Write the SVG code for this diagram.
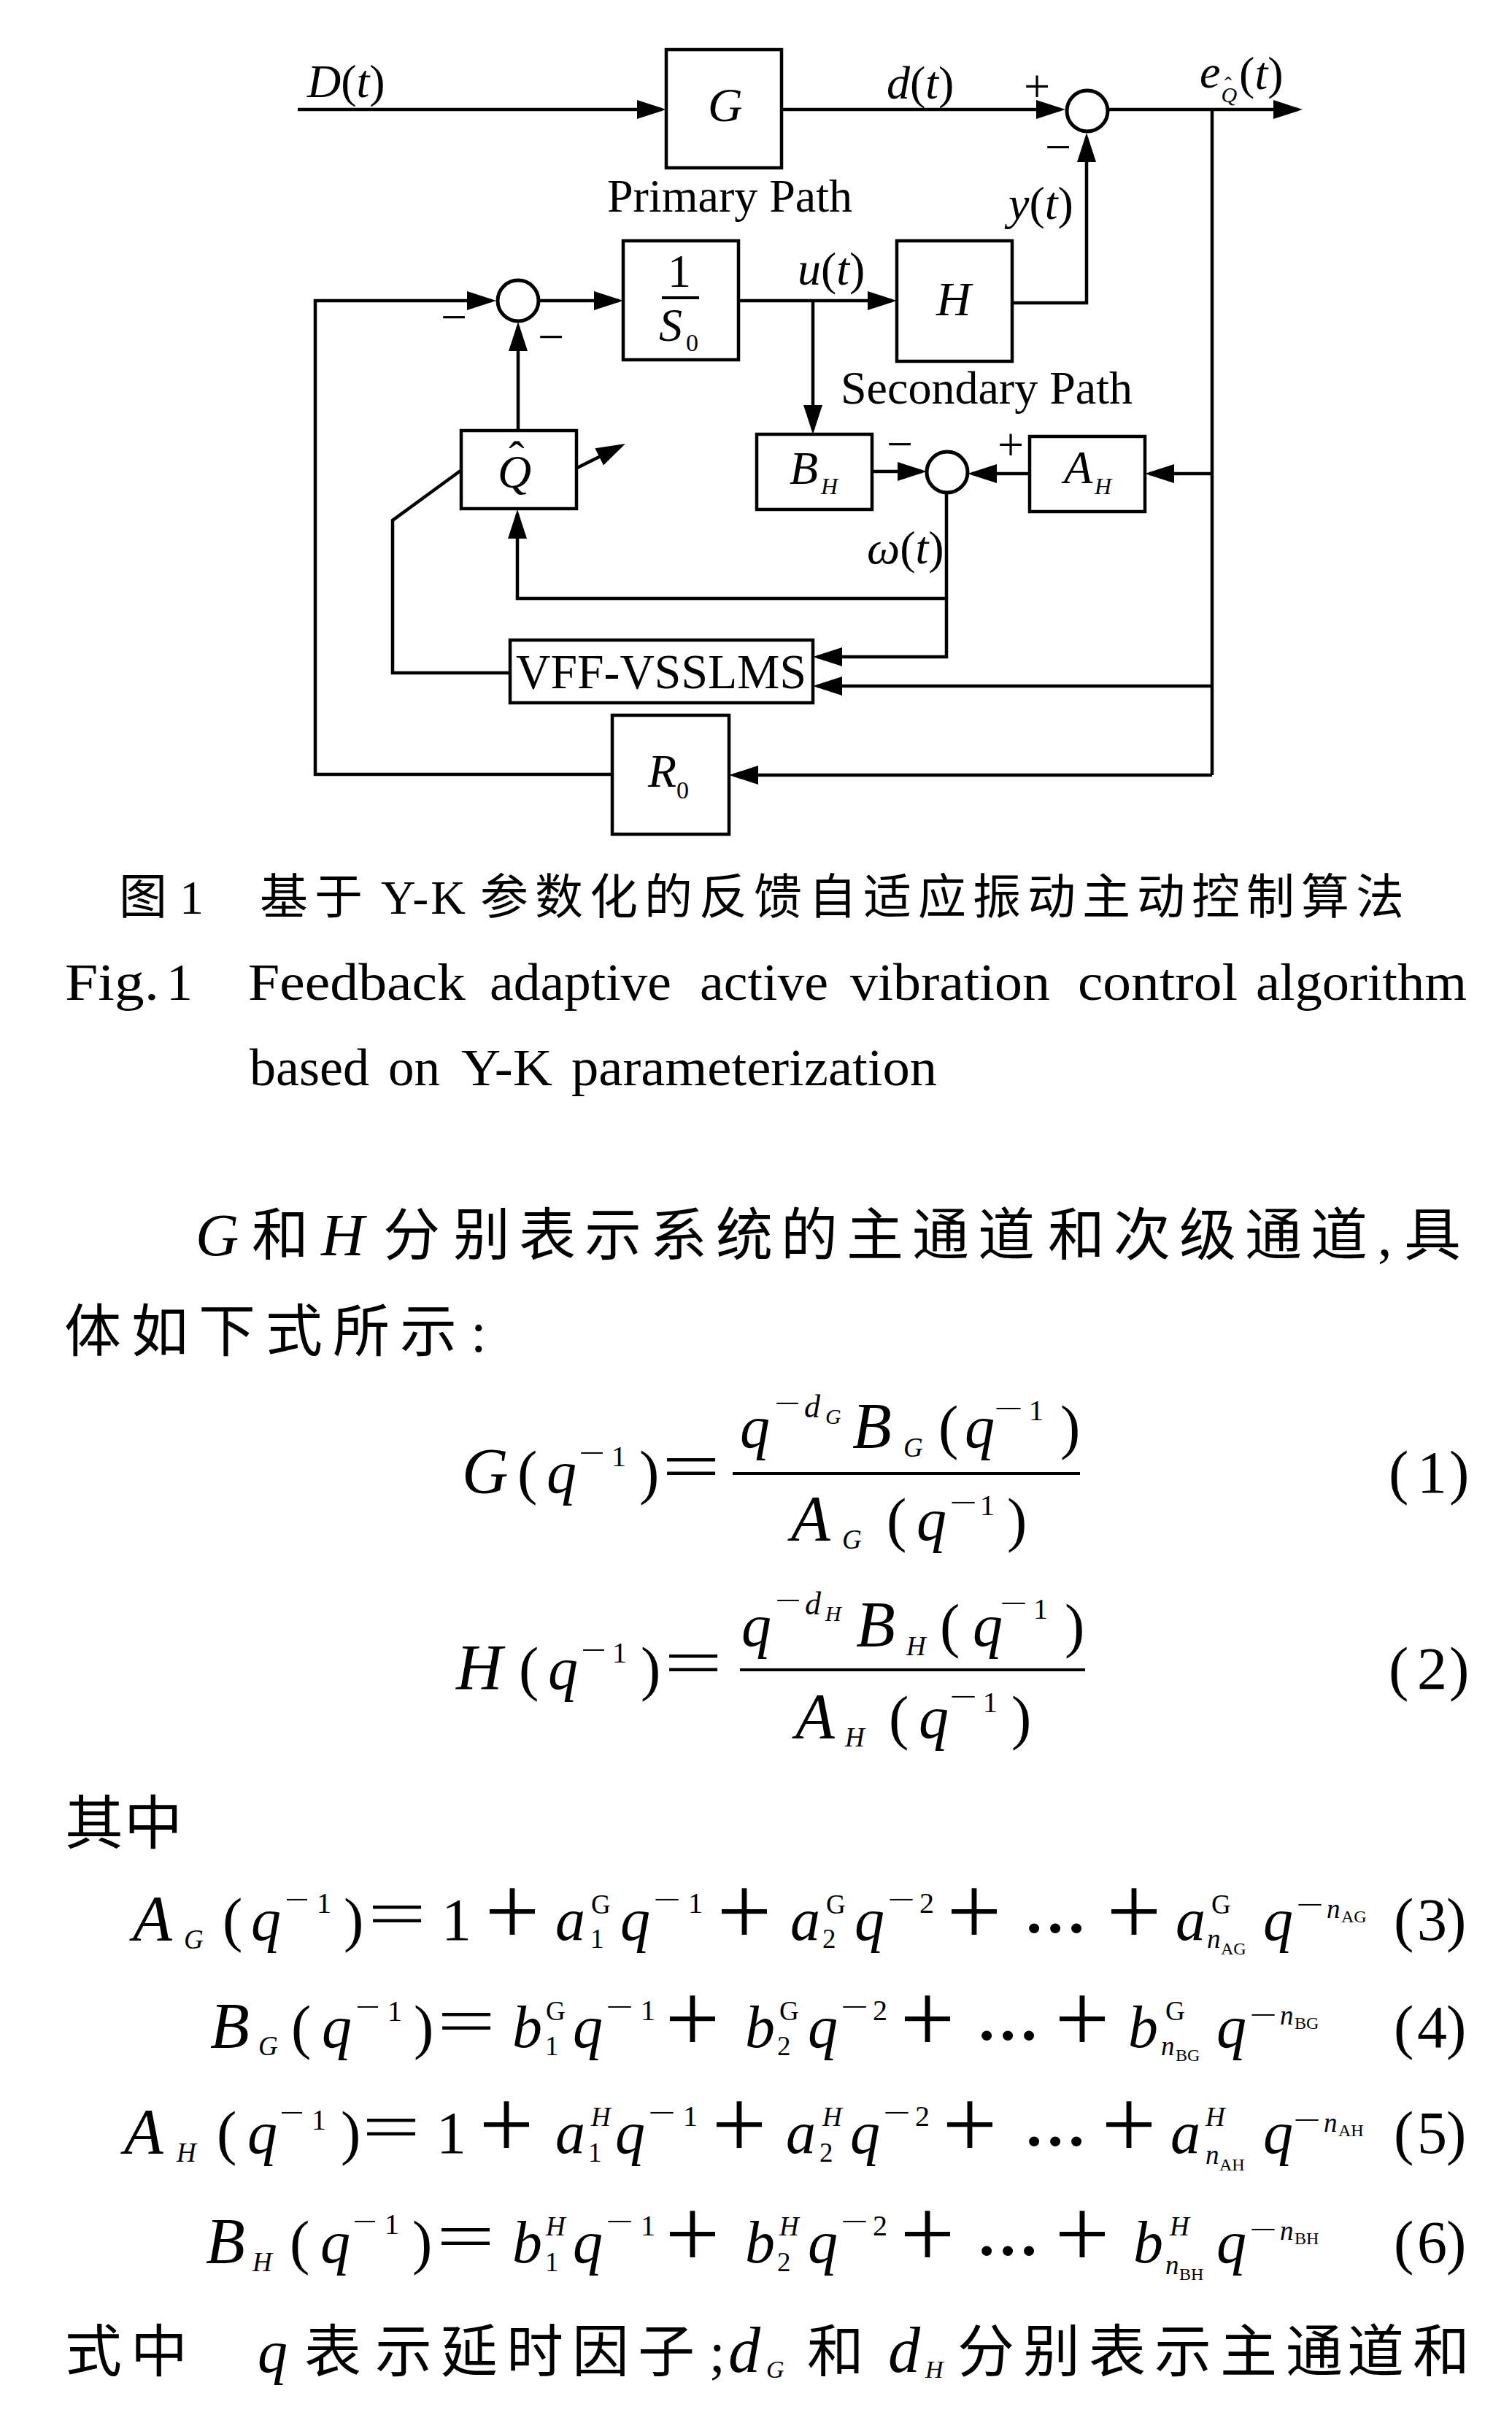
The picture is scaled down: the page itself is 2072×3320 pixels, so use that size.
<svg xmlns="http://www.w3.org/2000/svg" width="2072" height="3320" viewBox="0 0 2072 3320">
<style>
.f{font-family:"Liberation Serif","Noto Sans CJK SC",serif;fill:#000}
.i{font-style:italic}
.L{font-size:64px}
.M{font-size:82px}
.K{font-size:88px}
.S{font-size:40px}
.U{font-size:37px}
.V{font-size:24px}
.C{font-size:66px}
.T{font-size:78px}
.pl{font-family:"Noto Sans CJK SC","Noto Sans",sans-serif;font-weight:200;font-size:130px;fill:#000}
.ln{stroke:#000;stroke-width:4.5;fill:none}
.box{fill:#fff;stroke:#000;stroke-width:4.5}
.sum{fill:#fff;stroke:#000;stroke-width:5}
.bar{stroke:#000;stroke-width:4}
</style>
<defs>
<marker id="ar" markerUnits="userSpaceOnUse" markerWidth="40" markerHeight="26" viewBox="0 0 40 26" refX="34" refY="13" orient="auto" overflow="visible">
<path d="M0,0 L40,13 L0,26 z" fill="#000"/>
</marker>
</defs>
<rect width="2072" height="3320" fill="#fff"/>

<g id="connectors" class="ln">
<path d="M408,150 H907" marker-end="url(#ar)"/>
<path d="M1071,150 H1454" marker-end="url(#ar)"/>
<path d="M1520,150 H1779" marker-end="url(#ar)"/>
<path d="M1661,150 V1062"/>
<path d="M1387,415 H1489 V188" marker-end="url(#ar)"/>
<path d="M839,1061 H432 V412 H674" marker-end="url(#ar)"/>
<path d="M740,412 H848" marker-end="url(#ar)"/>
<path d="M1012,412 H1223" marker-end="url(#ar)"/>
<path d="M1114,412 V589" marker-end="url(#ar)"/>
<path d="M710,590 V447" marker-end="url(#ar)"/>
<path d="M1195,646 H1264" marker-end="url(#ar)"/>
<path d="M1411,649 H1332" marker-end="url(#ar)"/>
<path d="M1661,649 H1575" marker-end="url(#ar)"/>
<path d="M1297,677 V900 H1120" marker-end="url(#ar)"/>
<path d="M1297,820 H709 V704" marker-end="url(#ar)"/>
<path d="M1661,940 H1120" marker-end="url(#ar)"/>
<path d="M697,922 H538 V713 L631,645"/>
<path d="M789,642 L851.6,610.7" marker-end="url(#ar)"/>
<path d="M1661,1062 H1005" marker-end="url(#ar)"/>
</g>

<g id="labels">
<text class="f L" x="421" y="133"><tspan class="i">D</tspan>(<tspan class="i">t</tspan>)</text>
<text class="f L" x="1215" y="135"><tspan class="i">d</tspan>(<tspan class="i">t</tspan>)</text>
<text class="f L" x="1403" y="140">+</text>
<text class="f L" x="1432" y="223">−</text>
<text class="f L" x="1644" y="120"><tspan class="i">e</tspan><tspan class="i" font-size="30" dx="1" dy="20">Q</tspan><tspan font-size="30" dx="-17" dy="-14">ˆ</tspan><tspan dx="10" dy="-4">(</tspan><tspan class="i">t</tspan>)</text>
<text class="f L" x="832" y="290">Primary Path</text>
<text class="f L" x="1382" y="300"><tspan class="i">y</tspan>(<tspan class="i">t</tspan>)</text>
<text class="f L" x="1093" y="390"><tspan class="i">u</tspan>(<tspan class="i">t</tspan>)</text>
<text class="f L" x="604" y="456">−</text>
<text class="f L" x="737" y="483">−</text>
<text class="f L" x="1152" y="553">Secondary Path</text>
<text class="f L" x="1215" y="630">−</text>
<text class="f L" x="1367" y="631">+</text>
<text class="f L" x="1188" y="772"><tspan class="i">ω</tspan>(<tspan class="i">t</tspan>)</text>
</g>

<g id="sum1"><circle class="sum" cx="1490" cy="152" r="28"/></g>
<g id="sum2"><circle class="sum" cx="710" cy="412" r="28"/></g>
<g id="sum3"><circle class="sum" cx="1298" cy="647" r="28"/></g>

<g id="G">
<rect class="box" x="913" y="68" width="158" height="162"/>
<text class="f i" font-size="66" x="970" y="166">G</text>
</g>
<g id="S0">
<rect class="box" x="854" y="330" width="158" height="163"/>
<text class="f L" x="915" y="393">1</text>
<line class="bar" x1="907" y1="408" x2="958" y2="408"/>
<text class="f L i" x="903" y="467">S</text>
<text class="f" font-size="34" x="940" y="481">0</text>
</g>
<g id="H">
<rect class="box" x="1229" y="330" width="158" height="165"/>
<text class="f i" font-size="66" x="1283" y="432">H</text>
</g>
<g id="Qhat">
<rect class="box" x="632" y="590" width="158" height="107"/>
<text class="f L" x="682" y="668"><tspan class="i">Q</tspan><tspan dx="-31" dy="-19">ˆ</tspan></text>
</g>
<g id="BH">
<rect class="box" x="1037" y="595" width="158" height="103"/>
<text class="f L i" x="1082" y="663">B</text>
<text class="f i" font-size="32" x="1125" y="677">H</text>
</g>
<g id="AH">
<rect class="box" x="1411" y="598" width="158" height="103"/>
<text class="f L i" x="1458" y="662">A</text>
<text class="f i" font-size="32" x="1500" y="677">H</text>
</g>
<g id="VFF">
<rect class="box" x="699" y="877" width="415" height="86"/>
<text class="f" font-size="68" x="707" y="943" textLength="398" lengthAdjust="spacingAndGlyphs">VFF-VSSLMS</text>
</g>
<g id="R0">
<rect class="box" x="839" y="980" width="160" height="163"/>
<text class="f L i" x="888" y="1078">R</text>
<text class="f" font-size="34" x="927" y="1094">0</text>
</g>

<g id="caption">
<text class="f C" x="163" y="1252">图<tspan x="246">1</tspan></text>
<text class="f C" x="356" y="1252" letter-spacing="9">基于</text>
<text class="f C" x="522" y="1252" letter-spacing="3">Y-K</text>
<text class="f C" x="658" y="1252" letter-spacing="9">参数化的反馈自适应振动主动控制算法</text>
<g class="f" font-size="72">
<text x="89" y="1370" textLength="129" lengthAdjust="spacingAndGlyphs">Fig.</text>
<text x="228" y="1370">1</text>
<text x="340" y="1370" textLength="298" lengthAdjust="spacingAndGlyphs">Feedback</text>
<text x="671" y="1370" textLength="249" lengthAdjust="spacingAndGlyphs">adaptive</text>
<text x="959" y="1370" textLength="176" lengthAdjust="spacingAndGlyphs">active</text>
<text x="1165" y="1370" textLength="274" lengthAdjust="spacingAndGlyphs">vibration</text>
<text x="1477" y="1370" textLength="219" lengthAdjust="spacingAndGlyphs">control</text>
<text x="1721" y="1370" textLength="289" lengthAdjust="spacingAndGlyphs">algorithm</text>
<text x="342" y="1487" textLength="164" lengthAdjust="spacingAndGlyphs">based</text>
<text x="532" y="1487" textLength="71" lengthAdjust="spacingAndGlyphs">on</text>
<text x="632" y="1487" textLength="125" lengthAdjust="spacingAndGlyphs">Y-K</text>
<text x="783" y="1487" textLength="501" lengthAdjust="spacingAndGlyphs">parameterization</text>
</g>
</g>

<g id="para">
<text class="f i" font-size="82" x="268" y="1720">G</text>
<text class="f T" x="345" y="1720">和</text>
<text class="f i" font-size="82" x="440" y="1720">H</text>
<text class="f T" y="1720" x="525 621 711 801 891 981 1070 1160 1250 1340 1436 1526 1616 1706 1796">分别表示系统的主通道和次级通道</text>
<text class="f" font-size="78" x="1888" y="1720">,</text>
<text class="f T" x="1924" y="1720">具</text>
<text class="f T" y="1852" x="88 180 272 364 456 548">体如下式所示</text>
<text class="f" font-size="78" x="645" y="1852">:</text>
<text class="f" font-size="80" y="2526" x="89 170">其中</text>
<text class="f T" y="3250" x="89 179">式中</text>
<text class="f i" font-size="82" x="353" y="3250">q</text>
<text class="f T" y="3250" x="417 514 604 694 784 874">表示延时因子</text>
<text class="f" font-size="78" x="972" y="3250">;</text>
<text class="f i" font-size="88" x="998" y="3250">d</text>
<text class="f i" font-size="34" x="1050" y="3258">G</text>
<text class="f T" x="1106" y="3250">和</text>
<text class="f i" font-size="88" x="1217" y="3250">d</text>
<text class="f i" font-size="34" x="1268" y="3258">H</text>
<text class="f T" y="3250" x="1312 1402 1492 1582 1672 1762 1846 1936">分别表示主通道和</text>
</g>

<g id="eq1">
<text class="f i K" x="633" y="2045">G</text>
<text class="f M" x="709" y="2045">(</text>
<text class="f i M" x="749" y="2045">q</text>
<text class="f S" x="793" y="2004" textLength="36" lengthAdjust="spacingAndGlyphs">−</text>
<text class="f S" x="838" y="2009">1</text>
<text class="f M" x="876" y="2045">)</text>
<text class="f" font-size="90" x="907" y="2040" textLength="80" lengthAdjust="spacingAndGlyphs">=</text>
<line class="bar" x1="1004" y1="2019" x2="1480" y2="2019"/>
<text class="f i M" x="1014" y="1983">q</text>
<text class="f S" x="1061" y="1936" textLength="36" lengthAdjust="spacingAndGlyphs">−</text>
<text class="f i" font-size="44" x="1102" y="1942">d</text>
<text class="f i" font-size="30" x="1131" y="1951">G</text>
<text class="f i K" x="1168" y="1983">B</text>
<text class="f i U" x="1238" y="1996">G</text>
<text class="f M" x="1286" y="1983">(</text>
<text class="f i M" x="1322" y="1983">q</text>
<text class="f S" x="1362" y="1943" textLength="40" lengthAdjust="spacingAndGlyphs">−</text>
<text class="f S" x="1410" y="1946">1</text>
<text class="f M" x="1453" y="1983">)</text>
<text class="f i K" x="1084" y="2110">A</text>
<text class="f i U" x="1154" y="2122">G</text>
<text class="f M" x="1215" y="2110">(</text>
<text class="f i M" x="1256" y="2110">q</text>
<text class="f S" x="1301" y="2072" textLength="38" lengthAdjust="spacingAndGlyphs">−</text>
<text class="f S" x="1343" y="2076">1</text>
<text class="f M" x="1380" y="2110">)</text>
<text class="f M" x="1903" y="2045">(</text>
<text class="f M" x="1942" y="2045">1</text>
<text class="f M" x="1986" y="2045">)</text>
</g>

<g id="eq2">
<text class="f i K" x="625" y="2314">H</text>
<text class="f M" x="711" y="2314">(</text>
<text class="f i M" x="751" y="2314">q</text>
<text class="f S" x="796" y="2274" textLength="35" lengthAdjust="spacingAndGlyphs">−</text>
<text class="f S" x="839" y="2278">1</text>
<text class="f M" x="878" y="2314">)</text>
<text class="f" font-size="90" x="910" y="2309" textLength="80" lengthAdjust="spacingAndGlyphs">=</text>
<line class="bar" x1="1014" y1="2288" x2="1487" y2="2288"/>
<text class="f i M" x="1016" y="2255">q</text>
<text class="f S" x="1062" y="2206" textLength="36" lengthAdjust="spacingAndGlyphs">−</text>
<text class="f i" font-size="44" x="1103" y="2212">d</text>
<text class="f i" font-size="30" x="1131" y="2221">H</text>
<text class="f i K" x="1173" y="2255">B</text>
<text class="f i U" x="1242" y="2268">H</text>
<text class="f M" x="1288" y="2255">(</text>
<text class="f i M" x="1333" y="2255">q</text>
<text class="f S" x="1370" y="2210" textLength="38" lengthAdjust="spacingAndGlyphs">−</text>
<text class="f S" x="1416" y="2218">1</text>
<text class="f M" x="1459" y="2255">)</text>
<text class="f i K" x="1090" y="2381">A</text>
<text class="f i U" x="1158" y="2393">H</text>
<text class="f M" x="1218" y="2381">(</text>
<text class="f i M" x="1259" y="2381">q</text>
<text class="f S" x="1301" y="2338" textLength="38" lengthAdjust="spacingAndGlyphs">−</text>
<text class="f S" x="1347" y="2346">1</text>
<text class="f M" x="1386" y="2381">)</text>
<text class="f M" x="1903" y="2314">(</text>
<text class="f M" x="1942" y="2314">2</text>
<text class="f M" x="1986" y="2314">)</text>
</g>

<g id="eq3">
<text class="f i K" x="182" y="2658">A</text>
<text class="f i U" x="252" y="2670">G</text>
<text class="f M" x="305" y="2658">(</text>
<text class="f i M" x="344" y="2658">q</text>
<text class="f S" x="390" y="2616" textLength="34" lengthAdjust="spacingAndGlyphs">−</text>
<text class="f S" x="434" y="2621">1</text>
<text class="f M" x="471" y="2658">)</text>
<text class="f" font-size="90" x="504" y="2653" textLength="80" lengthAdjust="spacingAndGlyphs">=</text>
<text class="f M" x="605" y="2658">1</text>
<text class="pl" x="666" y="2667" textLength="72" lengthAdjust="spacingAndGlyphs">+</text>
<text class="f i M" x="761" y="2658">a</text>
<text class="f U" x="810" y="2622">G</text>
<text class="f U" x="809" y="2669">1</text>
<text class="f i M" x="850" y="2658">q</text>
<text class="f S" x="895" y="2616" textLength="38" lengthAdjust="spacingAndGlyphs">−</text>
<text class="f S" x="943" y="2621">1</text>
<text class="pl" x="984" y="2667" textLength="72" lengthAdjust="spacingAndGlyphs">+</text>
<text class="f i M" x="1083" y="2658">a</text>
<text class="f U" x="1132" y="2622">G</text>
<text class="f U" x="1127" y="2669">2</text>
<text class="f i M" x="1171" y="2658">q</text>
<text class="f S" x="1216" y="2616" textLength="38" lengthAdjust="spacingAndGlyphs">−</text>
<text class="f S" x="1260" y="2621">2</text>
<text class="pl" x="1299" y="2667" textLength="72" lengthAdjust="spacingAndGlyphs">+</text>
<text class="f M" font-weight="bold" x="1403" y="2648" textLength="86" lengthAdjust="spacingAndGlyphs">…</text>
<text class="pl" x="1518" y="2667" textLength="72" lengthAdjust="spacingAndGlyphs">+</text>
<text class="f i M" x="1611" y="2658">a</text>
<text class="f U" x="1660" y="2622">G</text>
<text class="f i U" x="1654" y="2669">n</text>
<text class="f V" x="1673" y="2678">AG</text>
<text class="f i M" x="1731" y="2658">q</text>
<text class="f S" x="1776" y="2623" textLength="38" lengthAdjust="spacingAndGlyphs">−</text>
<text class="f i U" x="1818" y="2628">n</text>
<text class="f V" x="1838" y="2634">AG</text>
<text class="f M" x="1910" y="2658">(</text>
<text class="f M" x="1942" y="2658">3</text>
<text class="f M" x="1982" y="2658">)</text>
</g>

<g id="eq4">
<text class="f i K" x="288" y="2805">B</text>
<text class="f i U" x="354" y="2816">G</text>
<text class="f M" x="399" y="2805">(</text>
<text class="f i M" x="441" y="2805">q</text>
<text class="f S" x="487" y="2763" textLength="34" lengthAdjust="spacingAndGlyphs">−</text>
<text class="f S" x="531" y="2769">1</text>
<text class="f M" x="567" y="2805">)</text>
<text class="f" font-size="90" x="599" y="2800" textLength="80" lengthAdjust="spacingAndGlyphs">=</text>
<text class="f i M" x="702" y="2805">b</text>
<text class="f U" x="748" y="2768">G</text>
<text class="f U" x="747" y="2816">1</text>
<text class="f i M" x="785" y="2805">q</text>
<text class="f S" x="830" y="2763" textLength="38" lengthAdjust="spacingAndGlyphs">−</text>
<text class="f S" x="878" y="2768">1</text>
<text class="pl" x="913" y="2814" textLength="72" lengthAdjust="spacingAndGlyphs">+</text>
<text class="f i M" x="1021" y="2805">b</text>
<text class="f U" x="1068" y="2768">G</text>
<text class="f U" x="1065" y="2816">2</text>
<text class="f i M" x="1107" y="2805">q</text>
<text class="f S" x="1152" y="2763" textLength="38" lengthAdjust="spacingAndGlyphs">−</text>
<text class="f S" x="1196" y="2768">2</text>
<text class="pl" x="1235" y="2814" textLength="72" lengthAdjust="spacingAndGlyphs">+</text>
<text class="f M" font-weight="bold" x="1338" y="2795" textLength="86" lengthAdjust="spacingAndGlyphs">…</text>
<text class="pl" x="1447" y="2814" textLength="72" lengthAdjust="spacingAndGlyphs">+</text>
<text class="f i M" x="1546" y="2805">b</text>
<text class="f U" x="1597" y="2768">G</text>
<text class="f i U" x="1591" y="2816">n</text>
<text class="f V" x="1611" y="2824">BG</text>
<text class="f i M" x="1667" y="2805">q</text>
<text class="f S" x="1712" y="2774" textLength="38" lengthAdjust="spacingAndGlyphs">−</text>
<text class="f i U" x="1754" y="2774">n</text>
<text class="f V" x="1774" y="2780">BG</text>
<text class="f M" x="1910" y="2805">(</text>
<text class="f M" x="1942" y="2805">4</text>
<text class="f M" x="1982" y="2805">)</text>
</g>

<g id="eq5">
<text class="f i K" x="170" y="2950">A</text>
<text class="f i U" x="242" y="2962">H</text>
<text class="f M" x="297" y="2950">(</text>
<text class="f i M" x="339" y="2950">q</text>
<text class="f S" x="383" y="2908" textLength="34" lengthAdjust="spacingAndGlyphs">−</text>
<text class="f S" x="427" y="2918">1</text>
<text class="f M" x="467" y="2950">)</text>
<text class="f" font-size="90" x="496" y="2945" textLength="80" lengthAdjust="spacingAndGlyphs">=</text>
<text class="f M" x="598" y="2950">1</text>
<text class="pl" x="658" y="2959" textLength="72" lengthAdjust="spacingAndGlyphs">+</text>
<text class="f i M" x="761" y="2950">a</text>
<text class="f i U" x="810" y="2913">H</text>
<text class="f U" x="806" y="2962">1</text>
<text class="f i M" x="843" y="2950">q</text>
<text class="f S" x="888" y="2908" textLength="38" lengthAdjust="spacingAndGlyphs">−</text>
<text class="f S" x="936" y="2913">1</text>
<text class="pl" x="977" y="2959" textLength="72" lengthAdjust="spacingAndGlyphs">+</text>
<text class="f i M" x="1077" y="2950">a</text>
<text class="f i U" x="1127" y="2913">H</text>
<text class="f U" x="1123" y="2962">2</text>
<text class="f i M" x="1165" y="2950">q</text>
<text class="f S" x="1210" y="2908" textLength="38" lengthAdjust="spacingAndGlyphs">−</text>
<text class="f S" x="1254" y="2913">2</text>
<text class="pl" x="1293" y="2959" textLength="72" lengthAdjust="spacingAndGlyphs">+</text>
<text class="f M" font-weight="bold" x="1403" y="2940" textLength="86" lengthAdjust="spacingAndGlyphs">…</text>
<text class="pl" x="1511" y="2959" textLength="72" lengthAdjust="spacingAndGlyphs">+</text>
<text class="f i M" x="1604" y="2950">a</text>
<text class="f i U" x="1652" y="2913">H</text>
<text class="f i U" x="1652" y="2965">n</text>
<text class="f V" x="1671" y="2974">AH</text>
<text class="f i M" x="1731" y="2950">q</text>
<text class="f S" x="1772" y="2918" textLength="38" lengthAdjust="spacingAndGlyphs">−</text>
<text class="f i U" x="1814" y="2921">n</text>
<text class="f V" x="1834" y="2927">AH</text>
<text class="f M" x="1910" y="2950">(</text>
<text class="f M" x="1942" y="2950">5</text>
<text class="f M" x="1982" y="2950">)</text>
</g>

<g id="eq6">
<text class="f i K" x="282" y="3100">B</text>
<text class="f i U" x="346" y="3112">H</text>
<text class="f M" x="397" y="3100">(</text>
<text class="f i M" x="439" y="3100">q</text>
<text class="f S" x="483" y="3057" textLength="34" lengthAdjust="spacingAndGlyphs">−</text>
<text class="f S" x="527" y="3061">1</text>
<text class="f M" x="565" y="3100">)</text>
<text class="f" font-size="90" x="598" y="3095" textLength="80" lengthAdjust="spacingAndGlyphs">=</text>
<text class="f i M" x="702" y="3100">b</text>
<text class="f i U" x="748" y="3063">H</text>
<text class="f U" x="747" y="3112">1</text>
<text class="f i M" x="785" y="3100">q</text>
<text class="f S" x="830" y="3057" textLength="38" lengthAdjust="spacingAndGlyphs">−</text>
<text class="f S" x="878" y="3063">1</text>
<text class="pl" x="913" y="3109" textLength="72" lengthAdjust="spacingAndGlyphs">+</text>
<text class="f i M" x="1021" y="3100">b</text>
<text class="f i U" x="1068" y="3063">H</text>
<text class="f U" x="1065" y="3112">2</text>
<text class="f i M" x="1107" y="3100">q</text>
<text class="f S" x="1152" y="3057" textLength="38" lengthAdjust="spacingAndGlyphs">−</text>
<text class="f S" x="1196" y="3063">2</text>
<text class="pl" x="1235" y="3109" textLength="72" lengthAdjust="spacingAndGlyphs">+</text>
<text class="f M" font-weight="bold" x="1338" y="3090" textLength="86" lengthAdjust="spacingAndGlyphs">…</text>
<text class="pl" x="1447" y="3109" textLength="72" lengthAdjust="spacingAndGlyphs">+</text>
<text class="f i M" x="1553" y="3100">b</text>
<text class="f i U" x="1603" y="3063">H</text>
<text class="f i U" x="1597" y="3116">n</text>
<text class="f V" x="1616" y="3124">BH</text>
<text class="f i M" x="1667" y="3100">q</text>
<text class="f S" x="1712" y="3068" textLength="38" lengthAdjust="spacingAndGlyphs">−</text>
<text class="f i U" x="1754" y="3069">n</text>
<text class="f V" x="1774" y="3075">BH</text>
<text class="f M" x="1910" y="3100">(</text>
<text class="f M" x="1942" y="3100">6</text>
<text class="f M" x="1982" y="3100">)</text>
</g>
</svg>
